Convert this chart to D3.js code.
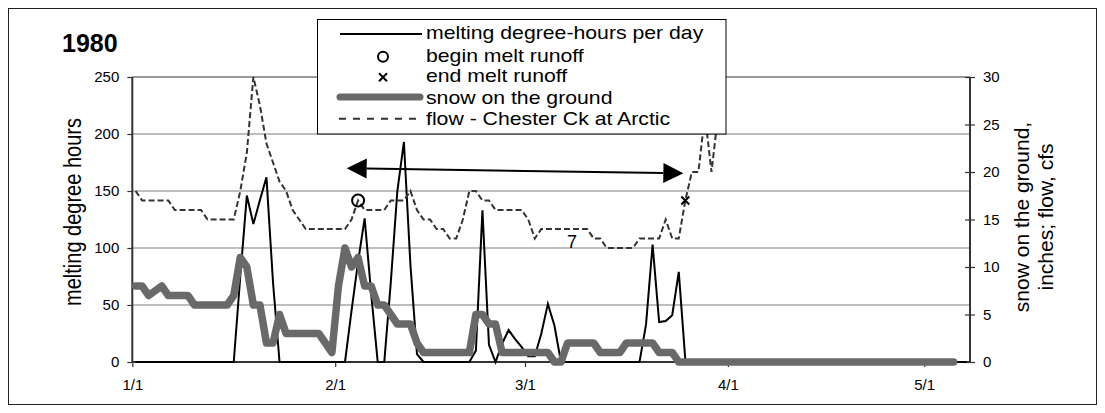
<!DOCTYPE html>
<html><head><meta charset="utf-8">
<script src="https://cdn.jsdelivr.net/npm/d3@7"></script>
<style>body{margin:0;background:#fff} text{font-family:"Liberation Sans",Arial,sans-serif;fill:#000}</style>
</head><body>
<svg id="c" width="1105" height="413"></svg>
<script>
// ---------------- data ----------------
const startDate = "1980-01-01";
const endDate = "1980-05-08";
// melting degree-hours per day (left axis), one value per day from 1/1
const meltDegreeHours = [0,0,0,0,0,0,0,0,0,0,0,0,0,0,0,0,75,146,121,142,162,70,
  0,0,0,0,0,0,0,0,0,0,0,45,88,126,60,0,0,70,150,193,85,7,
  0,0,0,0,0,0,0,0,10,133,15,0,16,28,20,13,5,5,25,51,32,
  0,0,0,0,0,0,0,0,0,0,0,0,0,33,103,35,36,41,79,2,
  0,0,0,0,0,0,0,0,0,0,0,0,0,0,0,0,0,0,0,0,0,0,0,0,0,0,0,0,0,0,0,0,0,0,0,0,0,0,0,0,0,0,0];
// snow on the ground, inches (right axis)
const snowDepth = [8,8,7,7.5,8,7,7,7,7,6,6,6,6,6,6,7,11,10,6,6,2,2,5,3,3,3,3,3,3,2,1,8,12,10,11,8,8,6,6,5,4,4,4,2,
  1,1,1,1,1,1,1,1,5,5,4,4,1,1,1,1,1,1,1,1,0,0,2,2,2,2,2,1,1,1,1,2,2,2,2,2,1,1,1,
  0,0,0,0,0,0,0,0,0,0,0,0,0,0,0,0,0,0,0,0,0,0,0,0,0,0,0,0,0,0,0,0,0,0,0,0,0,0,0,0,0,0,0];
// flow - Chester Ck at Arctic, cfs (right axis)
const flowCfs = [18,17,17,17,17,17,16,16,16,16,16,15,15,15,15,15,18,22,30,27,23,21,19,18,16,15,
  14,14,14,14,14,14,14,15,17,16,16,16,16,17,17,17,18,16,15,15,14,14,13,13,15,18,18,17,17,
  16,16,16,16,16,15,13,14,14,14,14,14,14,14,14,13,13,12,12,12,12,12,13,13,13,13,15,13,13,17,20,20,26,20,26];
const beginMeltRunoff = [{date:"1980-02-04", value:17}];
const endMeltRunoff = [{date:"1980-03-25", value:17}];
const leftTicks = [0,50,100,150,200,250];
const rightTicks = [0,5,10,15,20,25,30];
const xTickLabels = ["1/1","2/1","3/1","4/1","5/1"];
const arrowDays = [32.76, 84.2];
const arrowMelt = [170, 165.5];
const strayLabel = {day:67.2, melt:100, text:"7"};
const legendLabels = ["melting degree-hours per day","begin melt runoff","end melt runoff","snow on the ground","flow - Chester Ck at Arctic"];

// ---------------- setup ----------------
const svg = d3.select("#c");
const P = {left:132.3, right:970, top:77, bottom:362};
const parse = d3.utcParse("%Y-%m-%d");
const t0 = parse(startDate);
const DAY = 864e5;
const atDay = d => new Date(t0.getTime() + d*DAY);
const x = d3.scaleUtc().domain([t0, parse(endDate)]).range([P.left, P.right]);
const yL = d3.scaleLinear().domain([0,250]).range([P.bottom, P.top]);
const yR = d3.scaleLinear().domain([0,30]).range([P.bottom, P.top]);

// outer border
svg.append("rect").attr("x",8.5).attr("y",8.5).attr("width",1088).attr("height",396)
  .attr("fill","#fff").attr("stroke","#222").attr("stroke-width",1);

// gridlines
svg.append("g").selectAll("line").data(leftTicks.filter(d=>d>0)).join("line")
  .attr("x1",P.left).attr("x2",P.right).attr("y1",d=>yL(d)).attr("y2",d=>yL(d))
  .attr("stroke",d=>d===250?"#999":"#7f7f7f").attr("stroke-width",d=>d===250?2:1.2);

// left axis
const gL = svg.append("g").attr("transform",`translate(${P.left},0)`)
  .call(d3.axisLeft(yL).tickValues(leftTicks).tickSize(5).tickPadding(8));
// right axis
const gR = svg.append("g").attr("transform",`translate(${P.right},0)`)
  .call(d3.axisRight(yR).tickValues(rightTicks).tickSize(5).tickPadding(8));
gR.selectAll(".tick line").attr("x1",-5);
// bottom axis
const monthTicks = d3.utcMonth.range(t0, parse(endDate));
const gB = svg.append("g").attr("transform",`translate(0,${P.bottom})`)
  .call(d3.axisBottom(x).tickValues(monthTicks).tickFormat((d,i)=>xTickLabels[i]).tickSize(5).tickPadding(12));
[gL,gR,gB].forEach(g=>{
  g.select(".domain").attr("stroke","#333").attr("stroke-width",2);
  g.selectAll(".tick line").attr("stroke","#333").attr("stroke-width",1.2);
  g.selectAll(".tick text").attr("font-size",15).attr("font-family","Liberation Sans, Arial, sans-serif").attr("fill","#000");
});
gL.select(".domain").attr("d",`M0,${P.top}V${P.bottom}`);
gR.select(".domain").attr("d",`M0,${P.top}V${P.bottom}`);
gB.select(".domain").attr("d",`M${P.left},0H${P.right}`);

// series
const meltLine = d3.line().x((d,i)=>x(atDay(i+0.5))).y(d=>yL(d));
const rLine = d3.line().x((d,i)=>x(atDay(i+0.5))).y(d=>yR(d));
svg.append("path").attr("d",meltLine(meltDegreeHours)).attr("fill","none")
  .attr("stroke","#000").attr("stroke-width",2).attr("stroke-linejoin","miter");
svg.append("path").attr("d",rLine(snowDepth)).attr("fill","none")
  .attr("stroke","#696969").attr("stroke-width",7.5).attr("stroke-linejoin","round").attr("stroke-linecap","round");
svg.append("path").attr("d",rLine(flowCfs)).attr("fill","none")
  .attr("stroke","#333").attr("stroke-width",2).attr("stroke-dasharray","6,3");

// markers
svg.selectAll(".bm").data(beginMeltRunoff).join("circle")
  .attr("cx",d=>x(new Date(parse(d.date).getTime()+0.5*DAY))).attr("cy",d=>yR(d.value))
  .attr("r",6).attr("fill","none").attr("stroke","#000").attr("stroke-width",2);
const xm = svg.selectAll(".em").data(endMeltRunoff).join("g")
  .attr("transform",d=>`translate(${x(new Date(parse(d.date).getTime()+0.5*DAY))},${yR(d.value)})`);
xm.append("path").attr("d","M-4,-4L4,4M-4,4L4,-4").attr("stroke","#000").attr("stroke-width",2);

// arrow
const ax1 = x(atDay(arrowDays[0])), ay1 = yL(arrowMelt[0]);
const ax2 = x(atDay(arrowDays[1])), ay2 = yL(arrowMelt[1]);
const ang = Math.atan2(ay2-ay1, ax2-ax1);
const HL = 20, HW = 10;
svg.append("line").attr("x1",ax1+HL*Math.cos(ang)).attr("y1",ay1+HL*Math.sin(ang))
  .attr("x2",ax2-HL*Math.cos(ang)).attr("y2",ay2-HL*Math.sin(ang)).attr("stroke","#000").attr("stroke-width",2);
function head(tx,ty,a){
  const bx = tx - HL*Math.cos(a), by = ty - HL*Math.sin(a);
  const nx = -Math.sin(a)*HW, ny = Math.cos(a)*HW;
  return `M${tx},${ty}L${bx+nx},${by+ny}L${bx-nx},${by-ny}Z`;
}
svg.append("path").attr("d",head(ax2,ay2,ang)).attr("fill","#000");
svg.append("path").attr("d",head(ax1,ay1,ang+Math.PI)).attr("fill","#000");

// stray label
svg.append("text").attr("x",x(atDay(strayLabel.day))).attr("y",yL(strayLabel.melt))
  .attr("text-anchor","middle").attr("font-size",18).text(strayLabel.text);

// title
svg.append("text").attr("x",62).attr("y",52).attr("font-size",25).attr("font-weight","bold").text("1980");

// axis titles
svg.append("text").attr("transform","translate(81,212) scale(1.15,1) rotate(-90)")
  .attr("text-anchor","middle").attr("font-size",20).text("melting degree hours");
svg.append("text").attr("transform","translate(1029,217) rotate(-90)")
  .attr("text-anchor","middle").attr("font-size",21).text("snow on the ground,");
svg.append("text").attr("transform","translate(1053,217) rotate(-90)")
  .attr("text-anchor","middle").attr("font-size",21).text("inches; flow, cfs");

// legend
const lg = svg.append("g");
lg.append("rect").attr("x",317.5).attr("y",19.5).attr("width",408.5).attr("height",114.5)
  .attr("fill","#fff").attr("stroke","#000").attr("stroke-width",1);
const rowsY = [34,56.7,77.3,99,120.3];
lg.append("line").attr("x1",340).attr("x2",422).attr("y1",rowsY[0]).attr("y2",rowsY[0]).attr("stroke","#000").attr("stroke-width",2);
lg.append("circle").attr("cx",383).attr("cy",rowsY[1]).attr("r",5).attr("fill","none").attr("stroke","#000").attr("stroke-width",2);
lg.append("path").attr("transform",`translate(383,${rowsY[2]})`).attr("d","M-4,-4L4,4M-4,4L4,-4").attr("stroke","#000").attr("stroke-width",2);
lg.append("line").attr("x1",340).attr("x2",420).attr("y1",rowsY[3]-2).attr("y2",rowsY[3]-2).attr("stroke","#696969").attr("stroke-width",7).attr("stroke-linecap","round");
lg.append("line").attr("x1",339).attr("x2",423).attr("y1",rowsY[4]-1.5).attr("y2",rowsY[4]-1.5).attr("stroke","#333").attr("stroke-width",2).attr("stroke-dasharray","7,7");
lg.selectAll("text.lt").data(legendLabels).join("text").attr("class","lt")
  .attr("transform",(d,i)=>`translate(426,${rowsY[i]+4.8}) scale(1.18,1)`)
  .attr("font-size",18).text(d=>d);
</script>
</body></html>
